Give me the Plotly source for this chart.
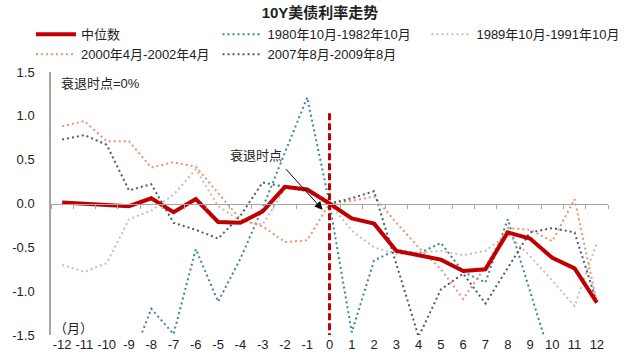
import plotly.graph_objects as go

months = list(range(-12, 13))
month_labels = [str(m) for m in months]

median = [0.01, 0.00, -0.01, -0.03, 0.06, -0.10, 0.05, -0.21, -0.22, -0.09, 0.19, 0.16, 0.00,
          -0.17, -0.23, -0.54, -0.59, -0.64, -0.77, -0.75, -0.33, -0.40, -0.62, -0.74, -1.13]
s1980 = [-2.00, -2.10, -1.95, -1.86, -1.20, -1.49, -0.52, -1.12, -0.63, -0.05, 0.58, 1.21, 0.00,
         -1.47, -0.65, -0.53, -0.57, -0.45, -0.78, -0.90, -0.18, -1.01, -1.82, -1.90, -1.95]
s1989 = [-0.70, -0.78, -0.68, -0.18, -0.08, 0.10, 0.39, -0.03, -0.20, -0.24, 0.17, 0.15, 0.00,
         -0.31, -0.50, -0.58, -0.56, -0.54, -0.59, -0.54, -0.35, -0.60, -0.88, -1.17, -0.45]
s2000 = [0.88, 0.94, 0.71, 0.71, 0.41, 0.47, 0.42, 0.12, -0.18, -0.26, -0.44, -0.42, 0.00,
         0.03, 0.08, -0.22, -0.50, -0.75, -1.09, -0.72, -0.28, -0.30, -0.43, 0.05, -1.13]
s2007 = [0.73, 0.78, 0.67, 0.15, 0.22, -0.22, -0.30, -0.40, -0.14, 0.24, 0.19, 0.14, 0.00,
         0.06, 0.14, -0.68, -1.52, -0.98, -0.80, -1.14, -0.74, -0.33, -0.28, -0.33, -1.13]

y_ticks = [-1.5, -1.0, -0.5, 0.0, 0.5, 1.0, 1.5]
y_ticktext = ["-1.5", "-1.0", "-0.5", "0.0", "0.5", "1.0", "1.5"]

recession_month = 0
vline_top = 1.03
vline_bottom = -1.5

FONT = "Arial, Liberation Sans, Noto Sans CJK SC, sans-serif"
RED = "#C00000"
TEAL = "#3A86A0"
GREY = "#CDBDB5"
ORANGE = "#E8956B"
SLATE = "#4B5A78"
AXIS = "#A6A6A6"
DOT = "2px,3px"

fig = go.Figure()

fig.add_trace(go.Scatter(x=months, y=s1980, mode="lines", name="1980年10月-1982年10月",
                         line=dict(color=TEAL, width=2, dash=DOT), legend="legend2", legendrank=1))
fig.add_trace(go.Scatter(x=months, y=s1989, mode="lines", name="1989年10月-1991年10月",
                         line=dict(color=GREY, width=2, dash=DOT), legend="legend3", legendrank=1))
fig.add_trace(go.Scatter(x=months, y=s2000, mode="lines", name="2000年4月-2002年4月",
                         line=dict(color=ORANGE, width=2, dash=DOT), legend="legend", legendrank=2))
fig.add_trace(go.Scatter(x=months, y=s2007, mode="lines", name="2007年8月-2009年8月",
                         line=dict(color=SLATE, width=2, dash=DOT), legend="legend2", legendrank=2))
fig.add_trace(go.Scatter(x=[recession_month, recession_month], y=[vline_top, vline_bottom], mode="lines",
                         line=dict(color=RED, width=3, dash="7px,3px"), showlegend=False, hoverinfo="skip"))
fig.add_trace(go.Scatter(x=months, y=median, mode="lines", name="中位数",
                         line=dict(color=RED, width=4), legend="legend", legendrank=1))
# helper trace for the zero-line axis with boundary ticks
fig.add_trace(go.Scatter(x=[months[0]], y=[0], xaxis="x2", mode="markers",
                         marker=dict(opacity=0), showlegend=False, hoverinfo="skip"))

leg_common = dict(orientation="v", yanchor="top", xanchor="left", font=dict(family=FONT, size=13, color="#222"),
                  bgcolor="rgba(0,0,0,0)", itemwidth=40, tracegroupgap=0)

fig.update_layout(
    width=640, height=364,
    margin=dict(l=47, r=32, t=72, b=28),
    paper_bgcolor="white", plot_bgcolor="white",
    font=dict(family=FONT, size=13, color="#222"),
    title=dict(text="<b>10Y美债利率走势</b>", x=0.5, xanchor="center", y=0.966, yanchor="middle",
               yref="container", font=dict(family=FONT, size=15, color="#222")),
    legend=dict(x=-0.036, y=1.20, **leg_common),
    legend2=dict(x=0.299, y=1.20, **leg_common),
    legend3=dict(x=0.674, y=1.20, **leg_common),
    xaxis=dict(range=[-12.5, 12.5], tickmode="array", tickvals=months, ticktext=month_labels,
               showline=False, ticks="", showgrid=False, zeroline=False,
               tickfont=dict(family=FONT, size=13, color="#222")),
    xaxis2=dict(overlaying="x", anchor="free", position=0.5, range=[-12.5, 12.5],
                tickmode="linear", tick0=-12.5, dtick=1, ticks="outside", ticklen=4, tickcolor=AXIS,
                showline=True, linecolor=AXIS, linewidth=1, showticklabels=False,
                showgrid=False, zeroline=False),
    yaxis=dict(range=[-1.5, 1.5], tickmode="array", tickvals=y_ticks, ticktext=y_ticktext,
               showline=True, linecolor=AXIS, linewidth=1.5, ticks="", showgrid=False, zeroline=False,
               ticklabelstandoff=12, tickfont=dict(family=FONT, size=13, color="#222")),
    showlegend=True,
)

fig.add_annotation(text="衰退时点=0%", xref="paper", yref="paper", x=0.014, y=0.955,
                   xanchor="left", yanchor="middle", showarrow=False, font=dict(family=FONT, size=13, color="#222"))
fig.add_annotation(text="衰退时点", x=-3.3, y=0.55, xanchor="center", yanchor="middle",
                   showarrow=False, font=dict(family=FONT, size=13, color="#222"))
fig.add_annotation(text="", x=-0.31, y=-0.07, ax=-38, ay=-42, showarrow=True,
                   arrowhead=2, arrowsize=1.6, arrowwidth=1, arrowcolor="#000")
fig.add_annotation(text="（月）", x=-11.5, y=-1.43, xanchor="center", yanchor="middle",
                   showarrow=False, font=dict(family=FONT, size=13, color="#222"))

fig.write_html("out.html", config={"displayModeBar": False},
               post_script="document.body.style.margin='0';document.body.style.padding='0';")
